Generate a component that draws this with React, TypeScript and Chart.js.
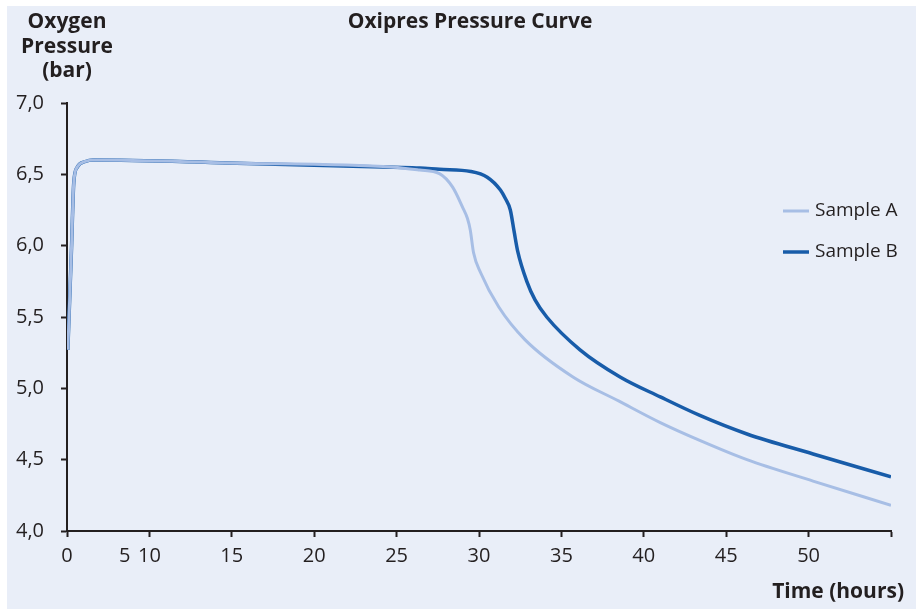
import React, { useEffect, useRef } from "react";
import { Chart, registerables } from "chart.js";

Chart.register(...registerables);

// ---- data (x in axis units: the left edge of the axis is labelled "0") ----
const hoursA = [5.05, 5.27, 5.41, 5.62, 6.12, 6.6, 14.7, 24.8, 26.4, 27.6, 28.4, 29.0, 29.3, 29.47, 29.67, 30.1, 31.2, 32.8, 35.7, 38.5, 41.0, 43.5, 46.26, 50.27, 55.0];
const pressureA = [5.27, 5.97, 6.44, 6.55, 6.59, 6.6, 6.58, 6.55, 6.53, 6.505, 6.41, 6.27, 6.19, 6.11, 5.95, 5.81, 5.57, 5.34, 5.08, 4.91, 4.76, 4.63, 4.5, 4.35, 4.18];

const hoursB = [5.05, 5.27, 5.41, 5.62, 6.12, 6.6, 14.7, 24.8, 26.4, 27.6, 29.5, 30.5, 31.3, 31.6, 31.9, 32.13, 32.35, 32.9, 33.4, 34.11, 36.13, 38.56, 41.0, 43.4, 46.26, 50.27, 55.0];
const pressureB = [5.27, 5.97, 6.44, 6.55, 6.59, 6.6, 6.58, 6.55, 6.545, 6.535, 6.52, 6.48, 6.39, 6.33, 6.25, 6.1, 5.96, 5.75, 5.62, 5.5, 5.27, 5.08, 4.94, 4.81, 4.68, 4.54, 4.38];

const seriesNames = ["Sample A", "Sample B"];

const xTickValues = [5, 8.5, 10, 15, 20, 25, 30, 35, 40, 45, 50, 55];
const xTickLabels = ["0", "5", "10", "15", "20", "25", "30", "35", "40", "45", "50", ""];
const yTickValues = [4, 4.5, 5, 5.5, 6, 6.5, 7];

const chartTitle = "Oxipres Pressure Curve";
const yTitleLines = ["Oxygen", "Pressure", "(bar)"];
const xTitle = "Time (hours)";

// ---- styles ----
const FONT = "'Open Sans', 'Noto Sans', sans-serif";
const TEXT = "#231f20";
const BG = "#e9eef8";
const COLOR_A = "#a7bee5";
const COLOR_B = "#185ca9";

const textPlugin = {
  id: "customTexts",
  afterDraw(chart: any) {
    const { ctx, chartArea } = chart;
    ctx.save();
    ctx.fillStyle = TEXT;
    ctx.font = `bold 21px ${FONT}`;
    ctx.textBaseline = "alphabetic";
    ctx.textAlign = "center";
    ctx.fillText(chartTitle, chartArea.left + 403, 28);
    yTitleLines.forEach((line, i) => {
      ctx.fillText(line, chartArea.left, 28 + i * 24.5);
    });
    ctx.textAlign = "right";
    ctx.fillText(xTitle, chartArea.right + 13, 598);

    // legend
    chart.data.datasets.forEach((ds: any, i: number) => {
      const y = chartArea.top + 108 + i * 41;
      const x0 = chartArea.right - 108;
      ctx.strokeStyle = ds.borderColor;
      ctx.lineWidth = ds.borderWidth;
      ctx.beginPath();
      ctx.moveTo(x0, y);
      ctx.lineTo(x0 + 26, y);
      ctx.stroke();
      ctx.font = `19px ${FONT}`;
      ctx.textAlign = "left";
      ctx.textBaseline = "middle";
      ctx.fillStyle = TEXT;
      ctx.fillText(ds.label, x0 + 32, y);
    });
    ctx.restore();
  },
};

export default function App() {
  const canvasRef = useRef<HTMLCanvasElement | null>(null);

  useEffect(() => {
    if (!canvasRef.current) return;
    const chart = new Chart(canvasRef.current, {
      type: "line",
      data: {
        datasets: [
          {
            label: seriesNames[0],
            data: hoursA.map((h, i) => ({ x: h, y: pressureA[i] })),
            borderColor: COLOR_A,
            borderWidth: 3,
            pointRadius: 0,
            cubicInterpolationMode: "monotone",
            fill: false,
          },
          {
            label: seriesNames[1],
            data: hoursB.map((h, i) => ({ x: h, y: pressureB[i] })),
            borderColor: COLOR_B,
            borderWidth: 3.5,
            pointRadius: 0,
            cubicInterpolationMode: "monotone",
            fill: false,
          },
        ],
      },
      options: {
        animation: false,
        responsive: false,
        maintainAspectRatio: false,
        layout: { padding: { left: 0, top: 103, right: 25, bottom: 0 } },
        plugins: {
          legend: { display: false },
          title: { display: false },
          tooltip: { enabled: false },
        },
        scales: {
          x: {
            type: "linear",
            min: 5,
            max: 55,
            afterBuildTicks: (scale: any) => {
              scale.ticks = xTickValues.map((v) => ({ value: v }));
            },
            afterFit: (scale: any) => {
              scale.height = 79;
            },
            ticks: {
              autoSkip: false,
              maxRotation: 0,
              padding: 7,
              color: TEXT,
              font: { family: FONT, size: 20 },
              callback: (_v: any, index: number) => xTickLabels[index],
            },
            grid: {
              drawOnChartArea: false,
              drawTicks: true,
              tickLength: 6,
              tickWidth: 2,
              tickColor: (ctx: any) =>
                ctx.tick && ctx.tick.value === 8.5 ? "rgba(0,0,0,0)" : TEXT,
            },
            border: { display: true, color: TEXT, width: 2 },
          },
          y: {
            min: 4,
            max: 7,
            afterBuildTicks: (scale: any) => {
              scale.ticks = yTickValues.map((v) => ({ value: v }));
            },
            afterFit: (scale: any) => {
              scale.width = 67;
            },
            ticks: {
              padding: 17,
              color: TEXT,
              font: { family: FONT, size: 20 },
              callback: (v: any) => Number(v).toFixed(1).replace(".", ","),
            },
            grid: {
              drawOnChartArea: false,
              drawTicks: true,
              tickLength: 6,
              tickWidth: 2,
              tickColor: TEXT,
            },
            border: { display: true, color: TEXT, width: 2 },
          },
        },
      },
      plugins: [textPlugin],
    } as any);
    return () => chart.destroy();
  }, []);

  return (
    <div style={{ position: "absolute", left: 0, top: 0, width: 916, height: 610, background: "#ffffff" }}>
      <div style={{ position: "absolute", left: 7, top: 6, width: 909, height: 603, background: BG }} />
      <canvas
        ref={canvasRef}
        width={916}
        height={610}
        style={{ position: "absolute", left: 0, top: 0, width: 916, height: 610 }}
      />
    </div>
  );
}
